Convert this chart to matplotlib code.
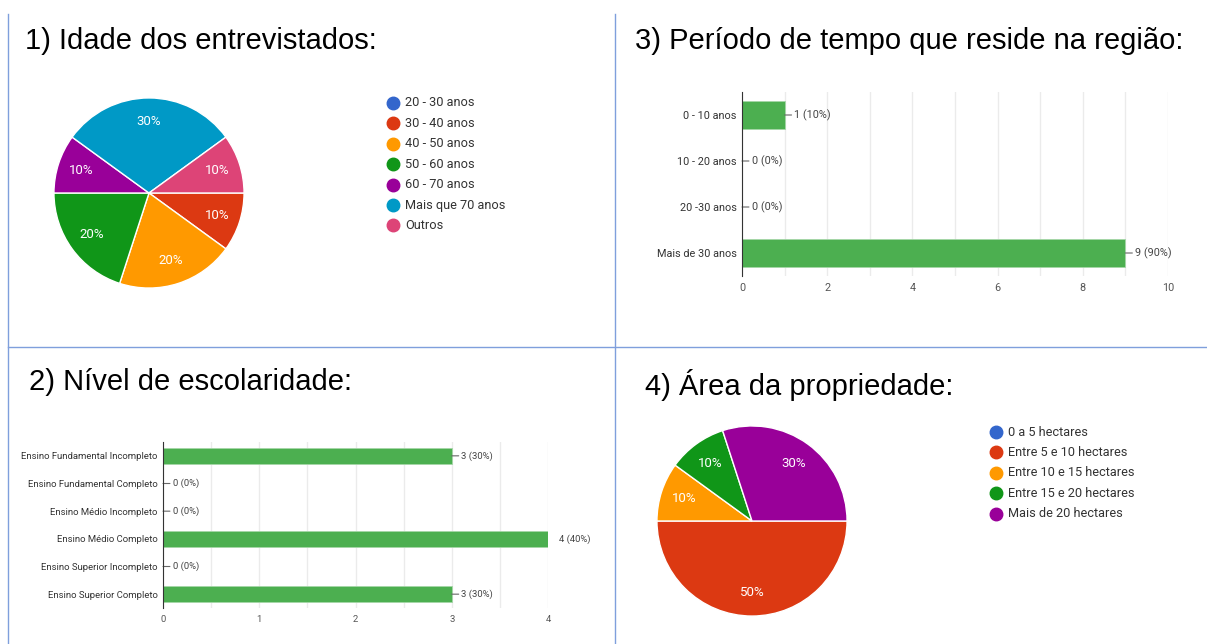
import matplotlib.pyplot as plt
from matplotlib.lines import Line2D
from matplotlib.ticker import MultipleLocator

# data
idade_labels = ["20 - 30 anos", "30 - 40 anos", "40 - 50 anos", "50 - 60 anos",
                "60 - 70 anos", "Mais que 70 anos", "Outros"]
idade_vals = [0, 1, 2, 2, 1, 3, 1]
idade_cores = ["#3366cc", "#dc3912", "#ff9900", "#109618", "#990099", "#0099c6", "#dd4477"]

periodo_labels = ["0 - 10 anos", "10 - 20 anos", "20 -30 anos", "Mais de 30 anos"]
periodo_vals = [1, 0, 0, 9]

escola_labels = ["Ensino Fundamental Incompleto", "Ensino Fundamental Completo",
                 "Ensino Médio Incompleto", "Ensino Médio Completo",
                 "Ensino Superior Incompleto", "Ensino Superior Completo"]
escola_vals = [3, 0, 0, 4, 0, 3]

area_labels = ["0 a 5 hectares", "Entre 5 e 10 hectares", "Entre 10 e 15 hectares",
               "Entre 15 e 20 hectares", "Mais de 20 hectares"]
area_vals = [0, 5, 1, 1, 3]
area_cores = ["#3366cc", "#dc3912", "#ff9900", "#109618", "#990099"]

W, H = 1207, 644
fig = plt.figure(figsize=(W / 100, H / 100), dpi=100)
plt.rcParams['font.family'] = ['Roboto', 'DejaVu Sans']


def box(x0, y0, x1, y1):
    # pixel box (top-left origin) -> figure fraction
    return [x0 / W, 1 - y1 / H, (x1 - x0) / W, (y1 - y0) / H]


def px(x, y):
    return x / W, 1 - y / H


# panel borders
bc = "#7f9fdc"
fig.add_artist(Line2D([8 / W, 8 / W], [0, 1 - 14 / H], color=bc, lw=1))
fig.add_artist(Line2D([615 / W, 615 / W], [0, 1 - 14 / H], color=bc, lw=1))
fig.add_artist(Line2D([8 / W, 1], [1 - 347 / H, 1 - 347 / H], color=bc, lw=1))

# titles
tfont = dict(family=['Liberation Sans', 'DejaVu Sans'], fontsize=21, color='black',
             va='baseline', ha='left')
fig.text(*px(25, 49), "1) Idade dos entrevistados:", **tfont)
fig.text(*px(635, 49), "3) Período de tempo que reside na região:", **tfont)
fig.text(*px(29, 390), "2) Nível de escolaridade:", **tfont)
fig.text(*px(645, 395), "4) Área da propriedade:", **tfont)


def pie(ax, vals, cores):
    ax.pie(vals, colors=cores, startangle=0, counterclock=False, radius=1,
           autopct=lambda p: f'{p:.0f}%' if p > 0 else '', pctdistance=0.75,
           wedgeprops=dict(edgecolor='white', linewidth=1),
           textprops=dict(color='white', fontsize=9.5))
    ax.set_xlim(-1.01, 1.01)
    ax.set_ylim(-1.01, 1.01)
    ax.set_aspect('equal')
    ax.axis('off')


def legenda(labels, cores, x, y, step):
    for i, (lab, c) in enumerate(zip(labels, cores)):
        yy = y + i * step
        fig.add_artist(Line2D([px(x, yy)[0]], [px(x, yy)[1]], marker='o', markersize=9,
                              color=c, lw=0))
        fig.text(*px(x + 12, yy), lab, fontsize=9.2, color='#333333', va='center', ha='left')


ax1 = fig.add_axes(box(53, 97, 245, 289))
pie(ax1, idade_vals, idade_cores)
legenda(idade_labels, idade_cores, 393, 103, 20.4)

ax4 = fig.add_axes(box(656, 425, 848, 617))
pie(ax4, area_vals, area_cores)
legenda(area_labels, area_cores, 996, 432, 20.4)


def barras(ax, labels, vals, xmax, major, minor, h, fs):
    total = sum(vals)
    y = range(len(vals))
    ax.barh(y, vals, height=h, color='#4caf50', edgecolor='#a5d6a7', linewidth=0.6, zorder=3)
    ax.set_ylim(len(vals) - 0.5, -0.5)
    ax.set_xlim(0, xmax)
    ax.set_yticks(list(y))
    ax.set_yticklabels(labels, fontsize=fs, color='#333333')
    ax.xaxis.set_major_locator(MultipleLocator(major))
    ax.xaxis.set_minor_locator(MultipleLocator(minor))
    ax.tick_params(axis='x', which='both', length=0, labelsize=fs, labelcolor='#555555', pad=5)
    ax.tick_params(axis='y', length=0, pad=4)
    ax.grid(True, axis='x', which='both', color='#ebebeb', lw=1, zorder=0)
    for s in ['top', 'right', 'bottom']:
        ax.spines[s].set_visible(False)
    ax.spines['left'].set_color('#333333')
    ax.spines['left'].set_zorder(4)
    for yi, v in zip(y, vals):
        txt = f"{v} ({v / total * 100:.0f}%)"
        if v < xmax:
            ax.annotate(txt, xy=(v, yi), xytext=(7, 0), textcoords='offset points',
                        va='center', ha='left', fontsize=fs, color='#444444',
                        arrowprops=dict(arrowstyle='-', color='#666666', lw=0.8,
                                        shrinkA=0, shrinkB=0, relpos=(0, 0.5)))
        else:
            ax.annotate(txt, xy=(v, yi), xytext=(8, 0), textcoords='offset points',
                        va='center', ha='left', fontsize=fs, color='#444444',
                        annotation_clip=False)


ax3 = fig.add_axes(box(742, 92, 1168, 276))
barras(ax3, periodo_labels, periodo_vals, 10, 2, 1, 0.63, 7.8)

ax2 = fig.add_axes(box(163, 442, 548, 608))
barras(ax2, escola_labels, escola_vals, 4, 1, 0.5, 0.6, 6.8)

fig.savefig("out.png", dpi=100)
